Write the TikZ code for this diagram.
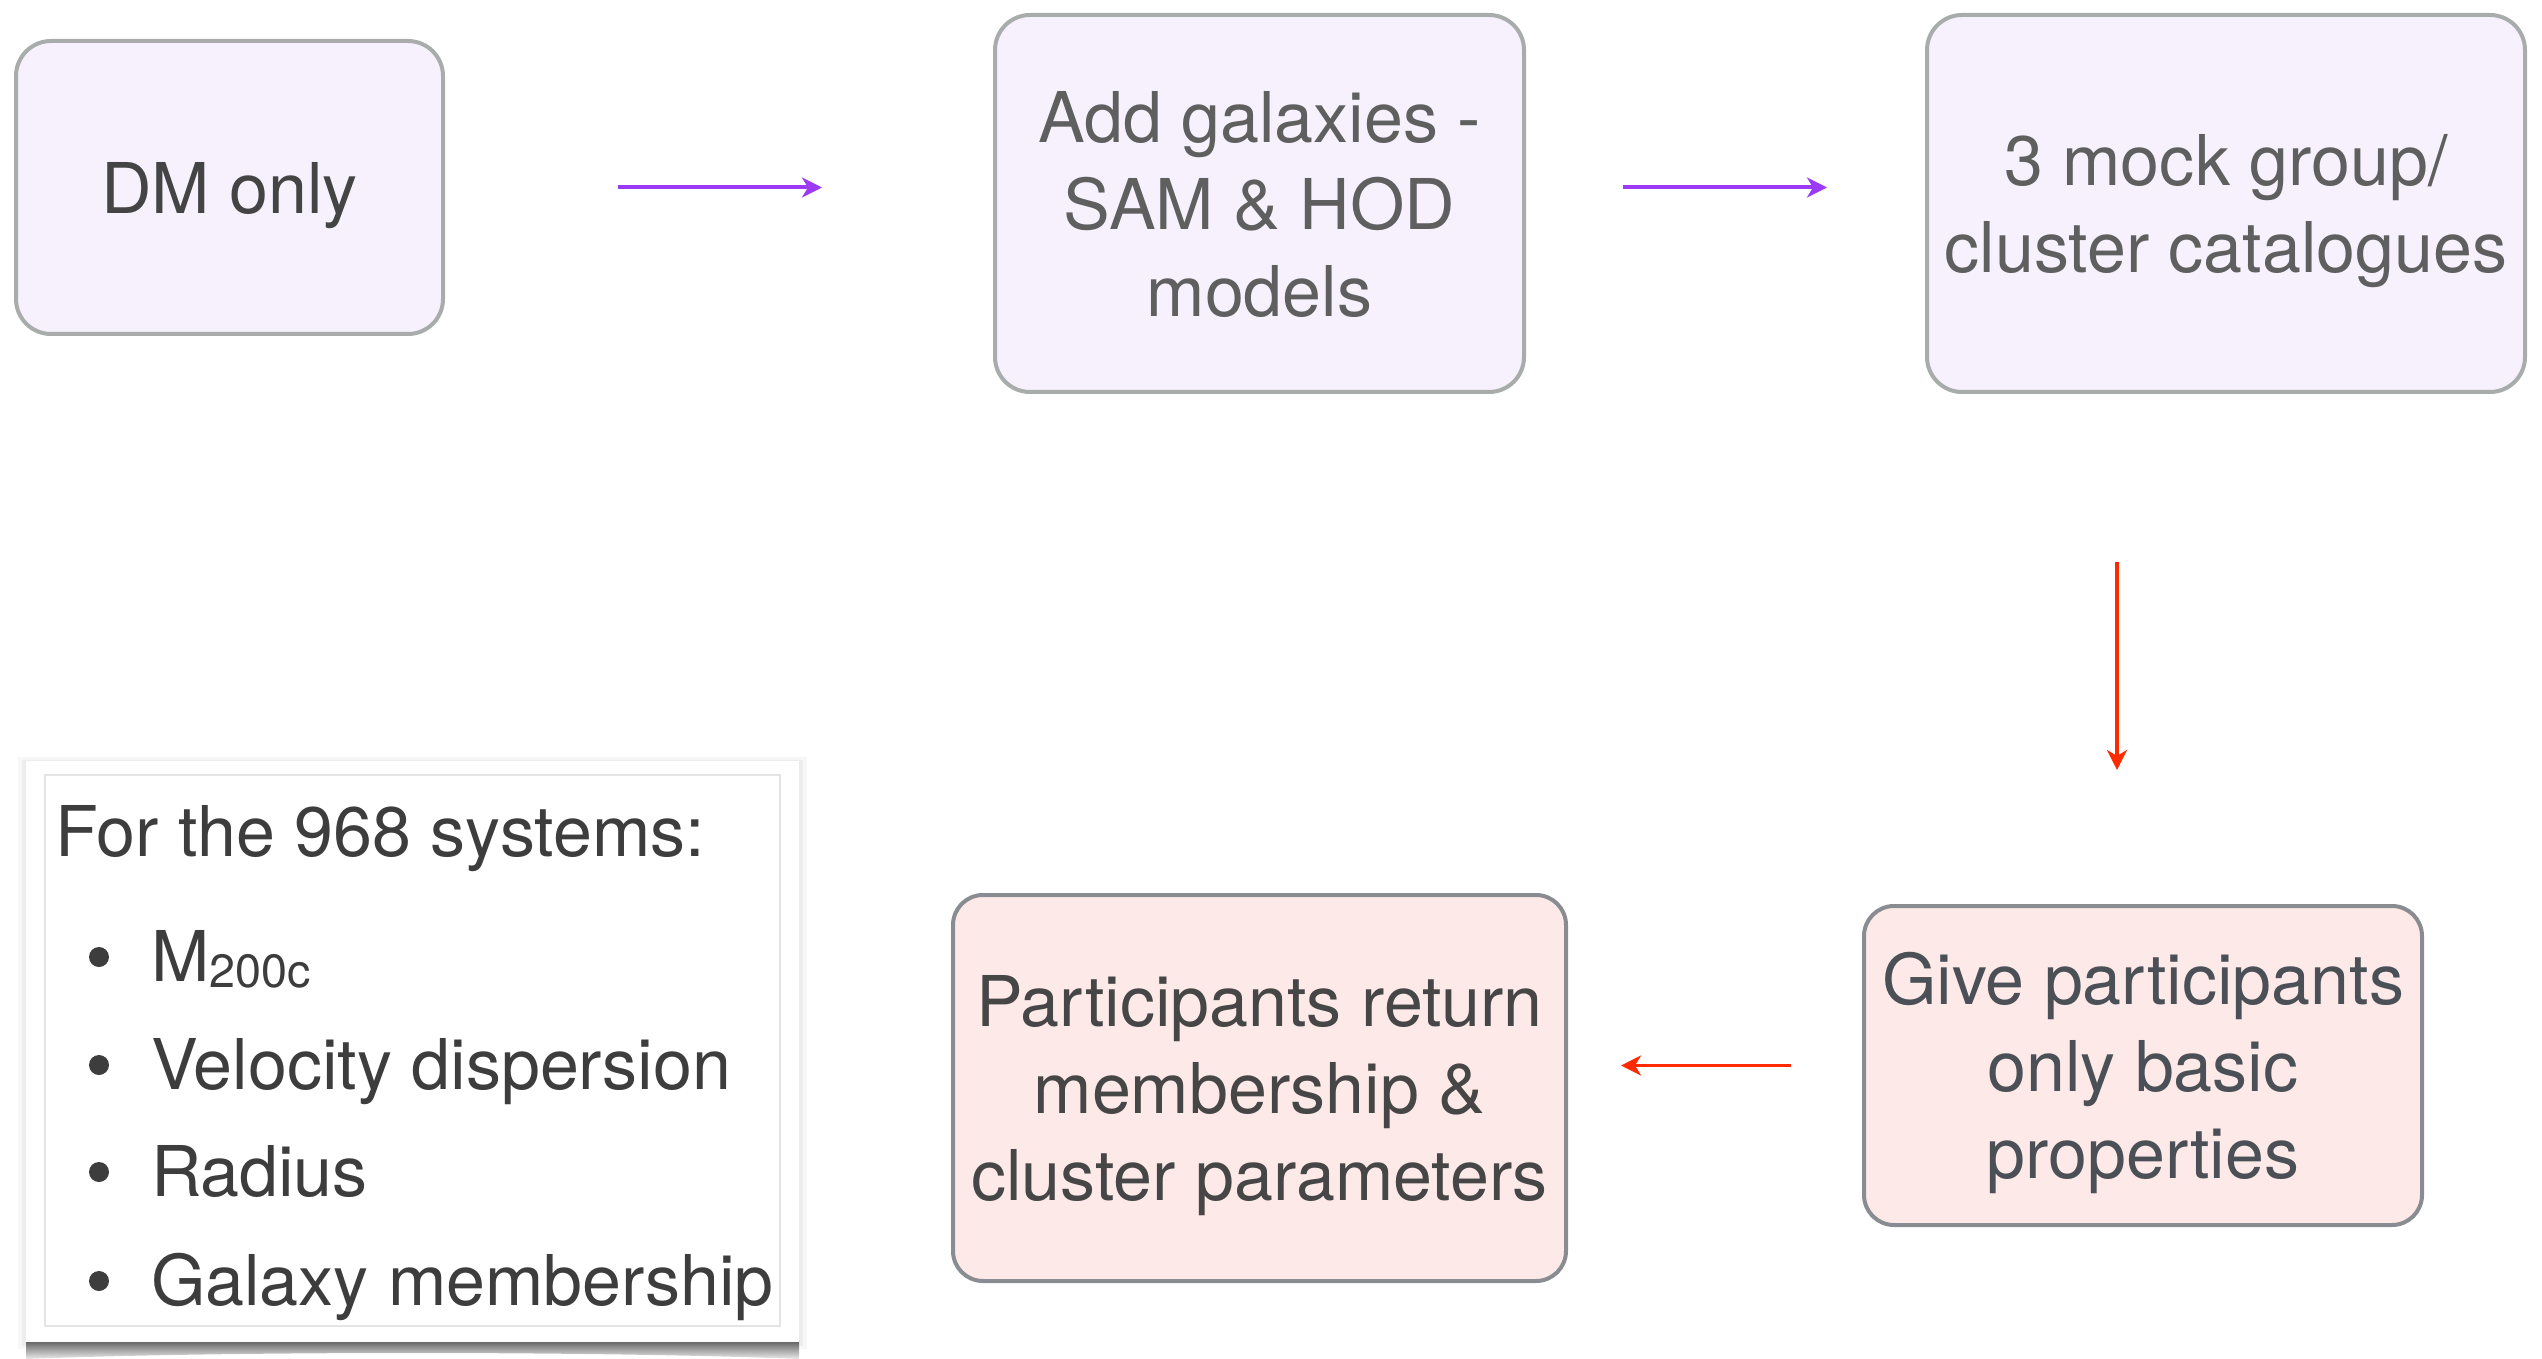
\documentclass[tikz,border=0pt]{standalone}
\usepackage{fontspec}
\setmainfont{TeX Gyre Heros}
\usetikzlibrary{arrows.meta,calc}

% palette
\definecolor{lavfill}{HTML}{F6F1FD}
\definecolor{lavline}{HTML}{A8ACAB}
\definecolor{pinkfill}{HTML}{FDEAE8}
\definecolor{pinkline}{HTML}{898C90}
\definecolor{arrowviolet}{HTML}{9B3BF6}
\definecolor{arrowred}{HTML}{FF2A00}
\definecolor{dmtext}{HTML}{444444}
\definecolor{toptext}{HTML}{5F5F5F}
\definecolor{parttext}{HTML}{464646}
\definecolor{givetext}{HTML}{4B5057}
\definecolor{paneltext}{HTML}{3D3D3D}
\definecolor{framegray}{HTML}{E4E4E4}

% struts giving every box label the same top and bottom extent
\newcommand\hstrut{\rule{0pt}{20pt}}
\newcommand\dstrut{\rule[-4.5pt]{0pt}{0pt}}

\tikzset{
  every node/.style={inner sep=0pt, outer sep=0pt},
  txt/.style={font=\fontsize{21}{26.1}\selectfont, align=center},
  topbox/.style={txt, draw=lavline, fill=lavfill, line width=1.2pt, rounded corners=10.5pt},
  pinkbox/.style={txt, draw=pinkline, fill=pinkfill, line width=1.2pt, rounded corners=9pt},
  flow/.style={line width=1.2pt, -{Stealth[length=6pt,width=6pt,inset=1.8pt]}},
  redflow/.style={flow, line width=1.05pt, arrowred},
  paneltxt/.style={font=\fontsize{21}{26.1}\selectfont, text=paneltext, anchor=base west},
  dot/.style={circle, fill=paneltext, minimum size=6pt},
}

\begin{document}
\begin{tikzpicture}[x=0.3pt, y=-0.3pt]
\useasboundingbox (0,0) rectangle (2542,1359);

% --- process boxes ---
\node[topbox, text=dmtext, minimum width=128.1pt, minimum height=87.9pt] (dm) at (229.5,187.5)
  {\hstrut DM only\dstrut};
\node[topbox, text=toptext, minimum width=158.7pt, minimum height=113.1pt] (add) at (1259.5,203.5)
  {\hstrut Add galaxies -\\SAM \& HOD\\models\dstrut};
\node[topbox, text=toptext, minimum width=179.4pt, minimum height=113.1pt] (mock) at (2226,203.5)
  {\hstrut 3 mock group/\\cluster catalogues\dstrut};
\node[pinkbox, text=givetext, minimum width=167.4pt, minimum height=95.7pt] (give) at (2143,1065.5)
  {\hstrut Give participants\\only basic\\properties\dstrut};
\node[pinkbox, text=parttext, minimum width=183.9pt, minimum height=115.8pt] (part) at (1259.5,1088)
  {\hstrut Participants return\\membership \&\\cluster parameters\dstrut};

% --- connectors ---
\draw[flow, arrowviolet, shorten <=52.5pt, shorten >=51.9pt] (dm.east) -- (dm.east -| add.west);
\draw[flow, arrowviolet, shorten <=29.7pt, shorten >=30pt] (add.east |- dm.east) -- (dm.east -| mock.west);
\draw[redflow, shorten <=51pt, shorten >=40.8pt] ([xshift=-7.8pt]give.north |- mock.south) -- ([xshift=-7.8pt]give.north);
\draw[redflow, shorten <=21.9pt, shorten >=16.5pt] (give.west) -- (give.west -| part.east);

% --- summary card with its shadow ---
\fill[black!3] (18,757) rectangle (807,1349);
\fill[black!7] (22,760) rectangle (803,1346);
\shade[top color=black!65, bottom color=black!8]
  (26,1340) -- (799,1340) -- (799,1359) .. controls (600,1351) and (225,1351) .. (26,1359) -- cycle;
\node[fill=white, minimum width=231.9pt, minimum height=174.3pt] (card) at (412.5,1051.5) {};
\node[draw=framegray, line width=0.4pt, minimum width=220.5pt, minimum height=165.3pt] (frame) at (412.5,1050.5) {};

\node[paneltxt] (title) at (55,856) {For the 968 systems:};
\node[dot] (d1) at (99,957) {};
\node[dot] (d2) at (99,1065) {};
\node[dot] (d3) at (99,1172) {};
\node[dot] (d4) at (99,1281) {};
\node[paneltxt] (i1) at (151,981) {M\raisebox{-1.8pt}{\fontsize{14}{14}\selectfont 200c}};
\node[paneltxt] (i2) at (151,1089) {Velocity dispersion};
\node[paneltxt] (i3) at (151,1196) {Radius};
\node[paneltxt] (i4) at (151,1305) {Galaxy membership};
\end{tikzpicture}
\end{document}
